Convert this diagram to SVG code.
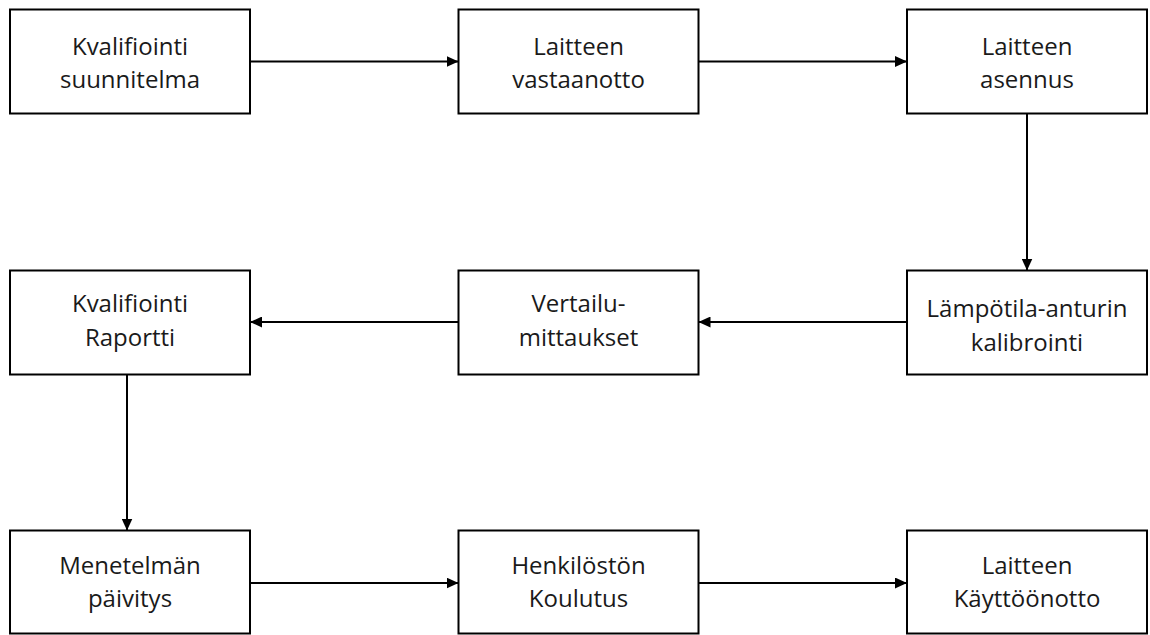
<svg xmlns="http://www.w3.org/2000/svg" width="1150" height="635" viewBox="0 0 1150 635">
<style>
.box{fill:#fff;stroke:#000;stroke-width:2}
.lbl{font-family:"Open Sans","Noto Sans","Liberation Sans",sans-serif;font-size:24px;fill:#1a1a1a;text-anchor:middle}
.conn{stroke:#000;stroke-width:2;fill:none;marker-end:url(#ah)}
</style>
<defs>
<marker id="ah" markerUnits="userSpaceOnUse" markerWidth="12" markerHeight="11" refX="12" refY="5.5" orient="auto">
<path d="M0,0 L12,5.5 L0,11 z" fill="#000"/>
</marker>
</defs>
<rect width="1150" height="635" fill="#fff"/>
<g id="connectors">
<line class="conn" x1="250" y1="61.5" x2="458.5" y2="61.5"/>
<line class="conn" x1="698.5" y1="61.5" x2="907" y2="61.5"/>
<line class="conn" x1="1027" y1="113.5" x2="1027" y2="270.5"/>
<line class="conn" x1="907" y1="322" x2="698.5" y2="322"/>
<line class="conn" x1="458.5" y1="322" x2="250" y2="322"/>
<line class="conn" x1="127" y1="374.5" x2="127" y2="530.5"/>
<line class="conn" x1="250" y1="583" x2="458.5" y2="583"/>
<line class="conn" x1="698.5" y1="583" x2="907" y2="583"/>
</g>
<g id="n1"><rect class="box" x="10" y="9.5" width="240" height="104"/><text class="lbl" x="130" y="55">Kvalifiointi</text><text class="lbl" x="130" y="88">suunnitelma</text></g>
<g id="n2"><rect class="box" x="458.5" y="9.5" width="240" height="104"/><text class="lbl" x="578.5" y="55">Laitteen</text><text class="lbl" x="578.5" y="88">vastaanotto</text></g>
<g id="n3"><rect class="box" x="907" y="9.5" width="240" height="104"/><text class="lbl" x="1027" y="55">Laitteen</text><text class="lbl" x="1027" y="88">asennus</text></g>
<g id="n4"><rect class="box" x="907" y="270.5" width="240" height="104"/><text class="lbl" x="1027" y="317">Lämpötila-anturin</text><text class="lbl" x="1027" y="351">kalibrointi</text></g>
<g id="n5"><rect class="box" x="458.5" y="270.5" width="240" height="104"/><text class="lbl" x="578.5" y="312">Vertailu-</text><text class="lbl" x="578.5" y="346">mittaukset</text></g>
<g id="n6"><rect class="box" x="10" y="270.5" width="240" height="104"/><text class="lbl" x="130" y="312">Kvalifiointi</text><text class="lbl" x="130" y="346">Raportti</text></g>
<g id="n7"><rect class="box" x="10" y="530.5" width="240" height="103"/><text class="lbl" x="130" y="574">Menetelmän</text><text class="lbl" x="130" y="607">päivitys</text></g>
<g id="n8"><rect class="box" x="458.5" y="530.5" width="240" height="103"/><text class="lbl" x="578.5" y="574">Henkilöstön</text><text class="lbl" x="578.5" y="607">Koulutus</text></g>
<g id="n9"><rect class="box" x="907" y="530.5" width="240" height="103"/><text class="lbl" x="1027" y="574">Laitteen</text><text class="lbl" x="1027" y="607">Käyttöönotto</text></g>
</svg>
